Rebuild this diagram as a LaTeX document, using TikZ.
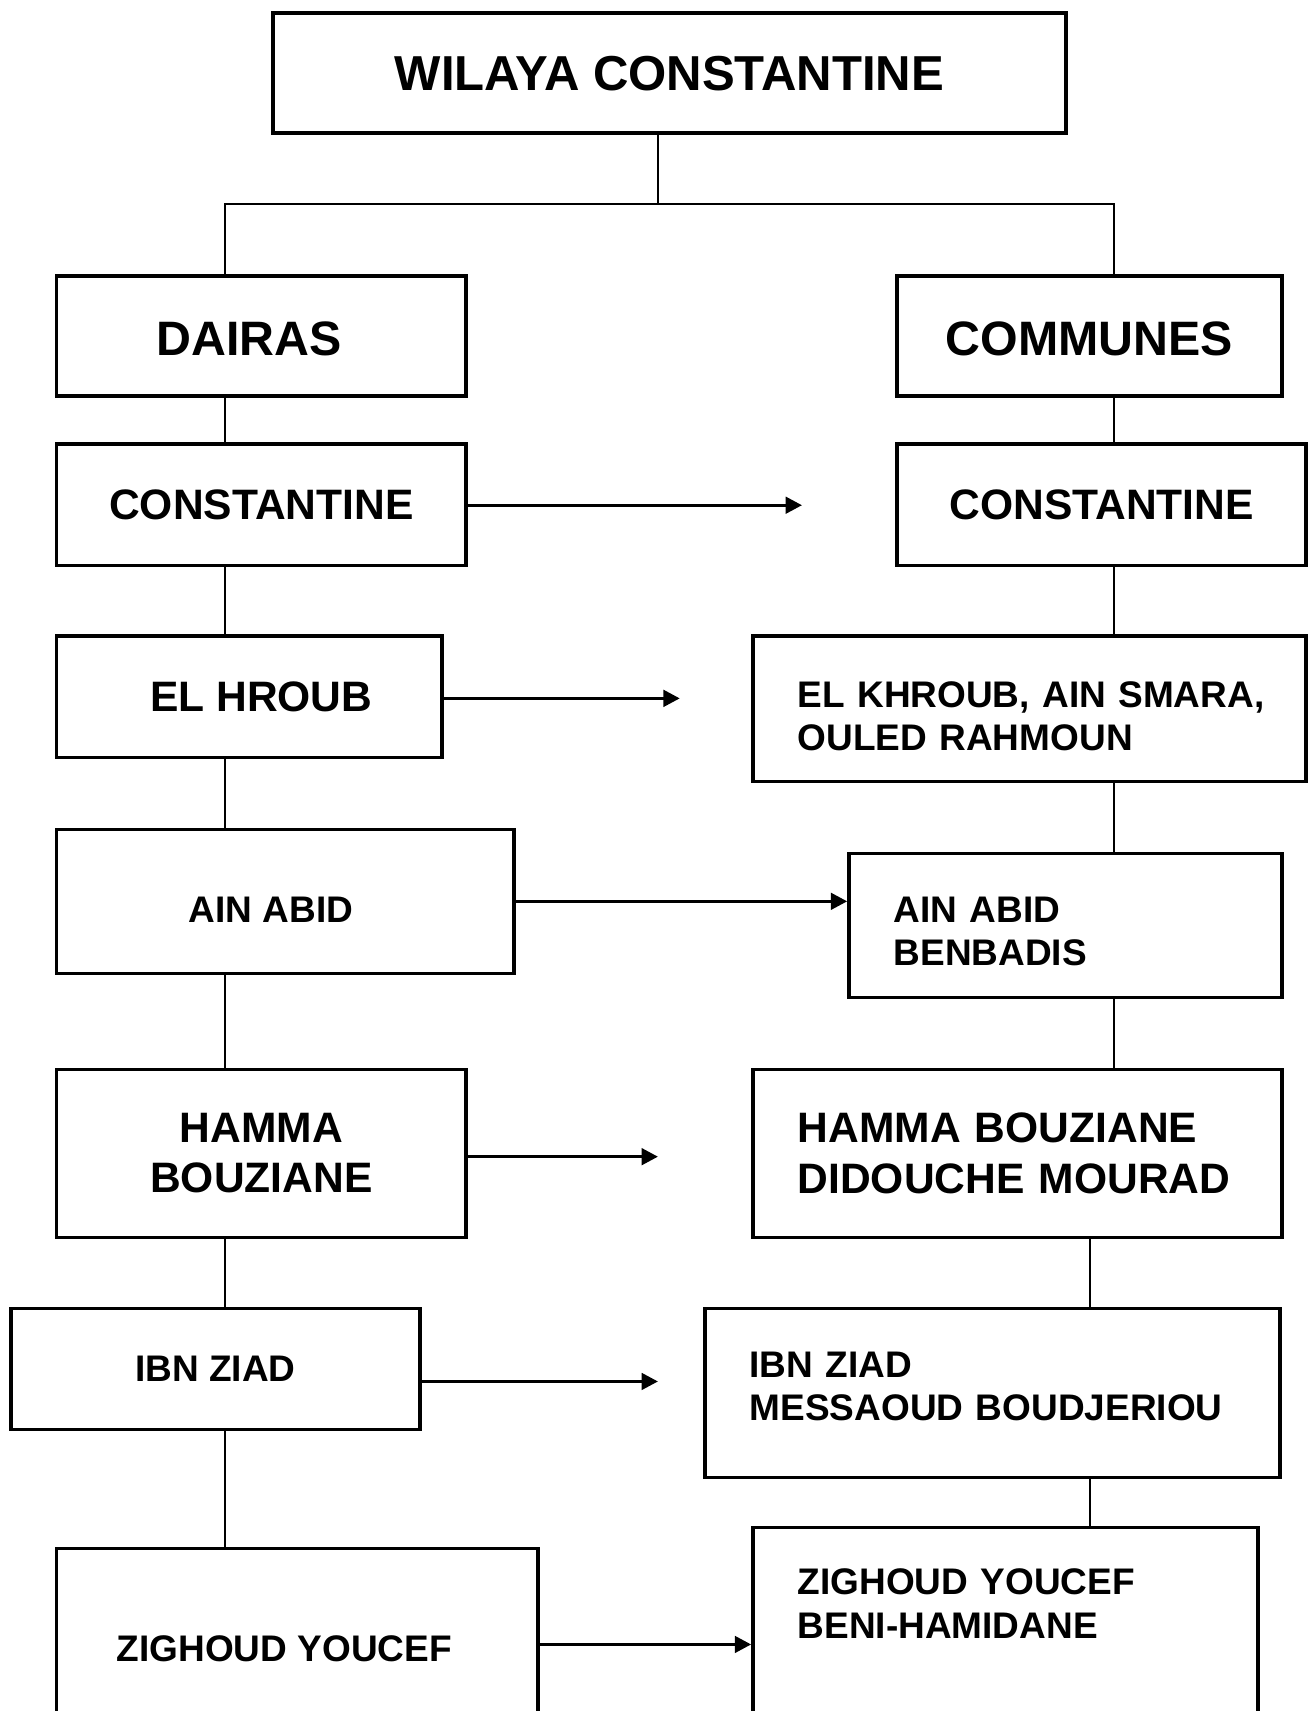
\documentclass[tikz,border=0pt]{standalone}
\usepackage{fontspec}
\setmainfont{Liberation Sans}
\usetikzlibrary{arrows.meta}

\begin{document}
\begin{tikzpicture}
	[box/.style={draw,rectangle,line width=0.9pt,inner sep=0pt},
		big/.style={font=\fontsize{12.6}{14}\selectfont\bfseries},
		mid/.style={font=\fontsize{11.1}{13.1}\selectfont\bfseries},
		small/.style={font=\fontsize{9.65}{11.4}\selectfont\bfseries},
		link/.style={line width=0.6pt},
		arr/.style={line width=0.9pt,-{Triangle[length=1.5mm,width=1.5mm]}}]

	\useasboundingbox (0,0) rectangle (11.99,-15.68);
	\clip (0,0) rectangle (11.99,-15.68);

	\node[box,big,font=\fontsize{12.8}{14}\selectfont\bfseries,minimum width=7.27cm,minimum height=1.1cm] (wil) at (6.135,-0.67) {WILAYA CONSTANTINE};

	% dairas
	\node[box,big,minimum width=3.75cm,minimum height=1.1cm,text height=0.73cm,text depth=0.37cm] (dairas) at (2.395,-3.08) {DAIRAS\kern0.22cm};
	\node[box,mid,minimum width=3.75cm,minimum height=1.11cm] (constL)  at (2.395,-4.625) {CONSTANTINE};
	\node[box,mid,minimum width=3.53cm,minimum height=1.11cm] (hroubL)  at (2.285,-6.385) {\kern0.22cm EL HROUB};
	\node[box,small,minimum width=4.19cm,minimum height=1.32cm,text height=0.85cm,text depth=0.47cm] (abidL) at (2.615,-8.26) {AIN ABID\kern0.26cm};
	\node[box,mid,minimum width=3.75cm,minimum height=1.54cm,align=center] (hammaL) at (2.395,-10.57) {HAMMA\\BOUZIANE};
	\node[box,small,minimum width=3.75cm,minimum height=1.11cm] (ziadL) at (1.975,-12.545) {IBN ZIAD};
	\node[box,small,minimum width=4.41cm,minimum height=1.84cm] (zigL)  at (2.725,-15.11) {ZIGHOUD YOUCEF\kern0.24cm};

	% communes
	\node[box,big,minimum width=3.53cm,minimum height=1.1cm,text height=0.73cm,text depth=0.37cm] (communes) at (9.985,-3.08) {COMMUNES};
	\node[box,mid,minimum width=3.75cm,minimum height=1.11cm] (constR)   at (10.095,-4.625) {CONSTANTINE};
	\node[box,small,minimum width=5.07cm,minimum height=1.33cm,text width=4.25cm,align=left,text height=0.65cm,text depth=0.68cm] (hroubR) at (9.435,-6.495) {\mbox{EL KHROUB, AIN SMARA,}\\OULED RAHMOUN};
	\node[box,small,minimum width=3.97cm,minimum height=1.32cm,text width=3.15cm,align=left,text height=0.63cm,text depth=0.69cm] (abidR) at (9.765,-8.48) {AIN ABID\\BENBADIS};
	\node[box,mid,minimum width=4.85cm,minimum height=1.54cm,text width=4.03cm,align=left] (hammaR) at (9.325,-10.57) {HAMMA BOUZIANE\\DIDOUCHE MOURAD};
	\node[box,small,minimum width=5.27cm,minimum height=1.55cm,text width=4.45cm,align=left,text height=0.63cm,text depth=0.92cm] (ziadR) at (9.095,-12.765) {IBN ZIAD\\MESSAOUD BOUDJERIOU};
	\node[box,small,anchor=north,minimum width=4.63cm,text width=3.81cm,align=left,text height=0.62cm,text depth=3cm] (zigR) at (9.215,-13.98) {ZIGHOUD YOUCEF\\BENI-HAMIDANE};

	\coordinate (fork) at (6.03,-1.87);
	\coordinate (lcol) at (2.06,0);
	\coordinate (rcol) at (10.21,0);
	\coordinate (rcolb) at (9.99,0);

	\draw[link] (wil.south -| fork) -- (fork);
	\draw[link] (dairas.north -| lcol) |- (fork) -| (communes.north -| rcol);

	\foreach \a/\b in {dairas/constL,constL/hroubL,hroubL/abidL,abidL/hammaL,hammaL/ziadL,ziadL/zigL}
		\draw[link] (\a.south -| lcol) -- (\b.north -| lcol);
	\foreach \a/\b in {communes/constR,constR/hroubR,hroubR/abidR,abidR/hammaR}
		\draw[link] (\a.south -| rcol) -- (\b.north -| rcol);
	\foreach \a/\b in {hammaR/ziadR,ziadR/zigR}
		\draw[link] (\a.south -| rcolb) -- (\b.north -| rcolb);

	% arrows
	\coordinate (e1) at (7.35,-4.63);
	\coordinate (e2) at (6.23,-6.40);
	\coordinate (e4) at (6.03,-10.60);
	\coordinate (e5) at (6.03,-12.66);
	\draw[arr] (constL.east |- e1) -- (e1);
	\draw[arr] (hroubL.east |- e2) -- (e2);
	\draw[arr] (abidL.east) -- (abidL.east -| abidR.west);
	\draw[arr] (hammaL.east |- e4) -- (e4);
	\draw[arr] (ziadL.east |- e5) -- (e5);
	\draw[arr] ([yshift=0.4mm]zigL.east) -- ([yshift=0.4mm]zigL.east -| zigR.west);

\end{tikzpicture}
\end{document}
